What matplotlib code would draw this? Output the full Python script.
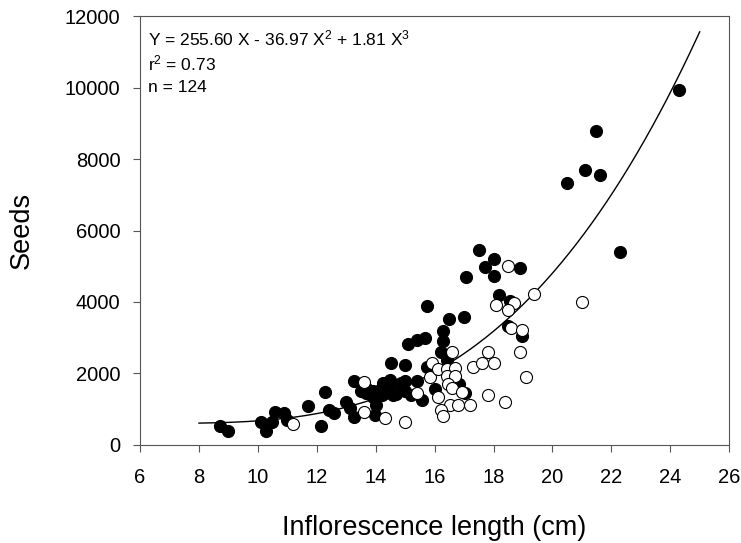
import numpy as np
import matplotlib.pyplot as plt

plt.rcParams['font.family'] = ['Liberation Sans', 'DejaVu Sans']
plt.rcParams['mathtext.fontset'] = 'custom'
plt.rcParams['mathtext.rm'] = 'Liberation Sans'
plt.rcParams['mathtext.it'] = 'Liberation Sans'

# filled circles
filled_x = [8.70, 8.98, 10.10, 10.29, 10.49, 10.58, 10.89, 11.00, 11.69, 12.14,
            12.28, 12.43, 12.58, 13.00, 13.14, 13.28, 13.28, 13.49, 13.68, 13.91,
            14.13, 14.25, 14.48, 14.53, 14.76, 14.99, 14.87, 14.51, 14.99, 15.10,
            15.39, 15.69, 15.75, 14.02, 13.99, 13.70, 14.00, 14.30, 14.60, 14.40,
            13.90, 14.70, 15.20, 14.20, 15.39, 14.99, 15.58, 16.01, 15.73, 16.30,
            16.30, 16.21, 16.41, 16.50, 17.00, 17.06, 17.50, 17.70, 18.00, 18.00,
            18.91, 18.20, 18.56, 18.49, 18.98, 16.83, 17.03, 20.50, 21.11, 21.61,
            21.49, 22.31, 24.30]
filled_y = [530, 375, 650, 390, 650, 915, 890, 700, 1090, 530,
            1465, 980, 890, 1185, 1030, 1775, 775, 1495, 1450, 1495,
            1540, 1730, 1820, 1540, 1495, 1495, 1730, 2290, 2240, 2830,
            2920, 2990, 3890, 1120, 840, 1560, 1400, 1450, 1380, 1500,
            1350, 1420, 1400, 1380, 1775, 1775, 1260, 1560, 2180, 3190,
            2900, 2610, 2360, 3530, 3580, 4690, 5440, 4980, 5200, 4730,
            4950, 4200, 4030, 3330, 3050, 1710, 1450, 7330, 7700, 7550,
            8800, 5410, 9930]

# open circles
open_x = [11.19, 13.60, 13.60, 14.30, 15.01, 15.39, 15.90, 15.84, 16.10, 16.10,
          16.41, 16.70, 16.41, 16.70, 16.60, 16.47, 16.58, 16.92, 16.52, 16.81,
          17.20, 16.21, 16.29, 17.32, 17.60, 18.00, 17.81, 17.81, 18.40, 18.91,
          19.10, 18.08, 18.68, 18.49, 18.60, 18.98, 18.49, 19.39, 21.00]
open_y = [590, 1745, 905, 750, 625, 1450, 2300, 1910, 2120, 1350,
          2120, 2150, 1930, 1930, 2590, 1710, 1590, 1475, 1120, 1120,
          1120, 980, 810, 2190, 2300, 2290, 2610, 1400, 1200, 2590,
          1890, 3920, 3970, 3760, 3270, 3200, 5010, 4230, 4000]

# fitted curve coefficients
b1, b2, b3 = 255.60, -36.97, 1.81

fig = plt.figure(figsize=(7.41, 5.43), dpi=100)
ax = fig.add_axes([0.189, 0.181, 0.795, 0.789])

ax.scatter(filled_x, filled_y, s=75, c='black', edgecolors='black', linewidths=0.8, zorder=3)
ax.scatter(open_x, open_y, s=75, c='white', edgecolors='black', linewidths=0.8, zorder=3)

xs = np.linspace(8, 25, 200)
ax.plot(xs, b1 * xs + b2 * xs**2 + b3 * xs**3, color='black', lw=1, zorder=2)

ax.set_xlim(6, 26)
ax.set_ylim(0, 12000)
ax.set_xticks(np.arange(6, 27, 2))
ax.set_yticks(np.arange(0, 12001, 2000))
ax.tick_params(direction='out', length=5, labelsize=14.5, color='#555555')
ax.tick_params(axis='x', pad=12)
ax.tick_params(axis='y', pad=9)
for sp in ax.spines.values():
    sp.set_color('#555555')

ax.set_xlabel('Inflorescence length (cm)', fontsize=19.5, labelpad=20)
ax.set_ylabel('Seeds', fontsize=19.5, labelpad=22)

ax.text(0.014, 0.949, 'Y = 255.60 X - 36.97 X$^2$ + 1.81 X$^3$',
        transform=ax.transAxes, fontsize=12.5, va='center', ha='left')
ax.text(0.014, 0.891, 'r$^2$ = 0.73', transform=ax.transAxes, fontsize=12.5, va='center', ha='left')
ax.text(0.014, 0.833, 'n = 124', transform=ax.transAxes, fontsize=12.5, va='center', ha='left')

fig.savefig('out.png', dpi=100)
